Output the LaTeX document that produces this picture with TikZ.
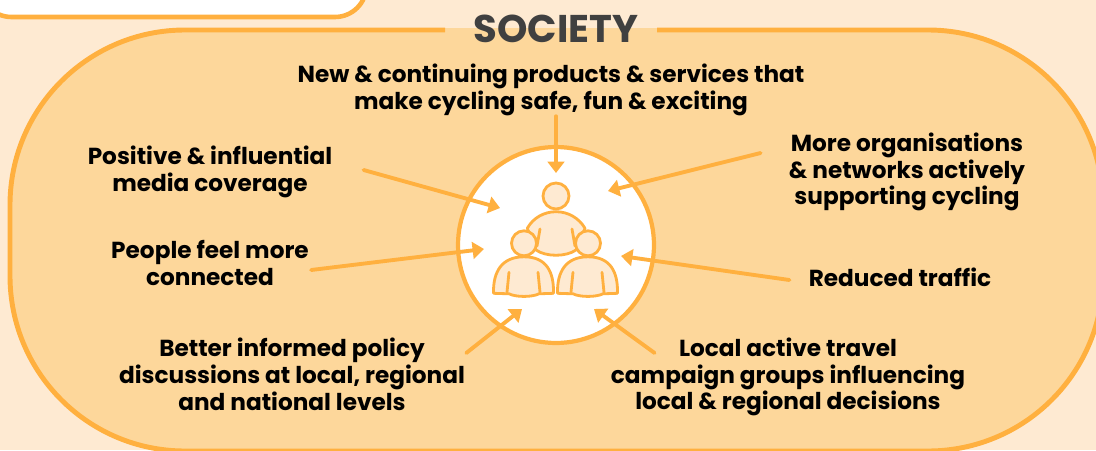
\documentclass[tikz,border=0pt]{standalone}
\usepackage{xcolor}
\usepackage{fontspec}
\usepackage{tikz}
\usetikzlibrary{arrows.meta}
\setmainfont{Poppins}
\definecolor{pagebg}{HTML}{FEEAD2}
\definecolor{panelbg}{HTML}{FDD79B}
\definecolor{lineorange}{HTML}{FFB03F}
\definecolor{headgrey}{HTML}{404040}
\tikzset{
    cause/.style={align=center,font=\fontsize{13.2}{15.3}\selectfont\bfseries,inner sep=0pt,text=black},
    link/.style={draw=lineorange,line width=2.2pt,line cap=round,-{Triangle[length=6.5pt,width=9.5pt]}},
    person/.style={draw=lineorange,fill=pagebg,line width=1.6pt,line join=round,line cap=round}
}
\begin{document}
\begin{tikzpicture}[x=0.02cm,y=-0.02cm]
    \useasboundingbox (0,0) rectangle (1096,450);
    \clip (0,0) rectangle (1096,450);
    \fill[pagebg] (0,0) rectangle (1096,450);
    % box at the top left
    \draw[lineorange,fill=white,line width=2.6pt,rounded corners=0.63cm] (-20,-40) -- (-20,17) -- (366.5,17) -- (366.5,-40) -- cycle;
    % panel
    \fill[panelbg,rounded corners=3.5cm] (10,28) rectangle (1103,451);
    \draw[lineorange,line width=2.8pt,rounded corners=3.5cm] (445,30) -- (10,30) -- (10,451) -- (1103,451) -- (1103,30) -- (657,30);
    \node[font=\fontsize{22}{24}\selectfont\bfseries,text=headgrey,inner sep=0pt] (society) at (556,29) {SOCIETY};

    % hub
    \node[draw=lineorange,fill=white,circle,line width=2.4pt,minimum size=3.92cm,inner sep=0pt] (hub) at (556,245) {};
    \draw[person] (527.3,228.3) .. controls (533,218) and (544,211.7) .. (556,211.7) .. controls (568,211.7) and (579,218) .. (585,228.3) -- (576,250) .. controls (566,257) and (546,257) .. (536,250) -- cycle;
    \draw[person] (540,229) -- (537,246);
    \draw[person] (572,229) -- (575,246);
    \node[person,circle,minimum size=0.52cm,inner sep=0pt] (headtop) at (556,196) {};
    \foreach \px/\name in {524/headleft,588/headright} {
        \begin{scope}[shift={(\px,243.3)}]
            \draw[person] (-30.5,50) .. controls (-31,28) and (-22,13.5) .. (0,13.5) .. controls (22,13.5) and (30,28) .. (29.5,50) -- (15,50.5) .. controls (8,54) and (-8,54) .. (-15,50.5) -- cycle;
            \draw[person] (-15,29) -- (-17,49);
            \draw[person] (14,29) -- (16,49);
            \node[person,circle,minimum size=0.5cm,inner sep=0pt] (\name) at (0,0) {};
        \end{scope}
    }

    % texts
    \node[cause] (products) at (551,90) {New \& continuing products \& services that\\make cycling safe, fun \& exciting};
    \node[cause] (media) at (210,172) {Positive \& influential\\media coverage};
    \node[cause] (connected) at (210,263) {People feel more\\connected};
    \node[cause] (policy) at (292,374) {Better informed policy\\discussions at local, regional\\and national levels};
    \node[cause] (orgs) at (907,172) {More organisations\\\& networks actively\\supporting cycling};
    \node[cause] (traffic) at (900,277) {Reduced traffic};
    \node[cause] (groups) at (788,377) {Local active travel\\campaign groups influencing\\local \& regional decisions};

    % arrows
    \coordinate (tipa) at (556,173);
    \coordinate (tipb) at (608,191);
    \coordinate (tipc) at (500,208);
    \coordinate (tipd) at (484,249);
    \coordinate (tipe) at (621,256);
    \coordinate (tipf) at (522,309);
    \coordinate (tipg) at (594,309);
    \draw[link] (products.south -| tipa) -- (tipa);
    \draw[link] ([shift={(-28,-19)}]orgs.west) -- (tipb);
    \draw[link] ([shift={(31,-2)}]media.east) -- (tipc);
    \draw[link] ([shift={(2,7)}]connected.east) -- (tipd);
    \draw[link] ([shift={(-19,3)}]traffic.west) -- (tipe);
    \draw[link] ([shift={(1,-21)}]policy.east) -- (tipf);
    \draw[link] ([shift={(44,-24)}]groups.west) -- (tipg);
\end{tikzpicture}
\end{document}
